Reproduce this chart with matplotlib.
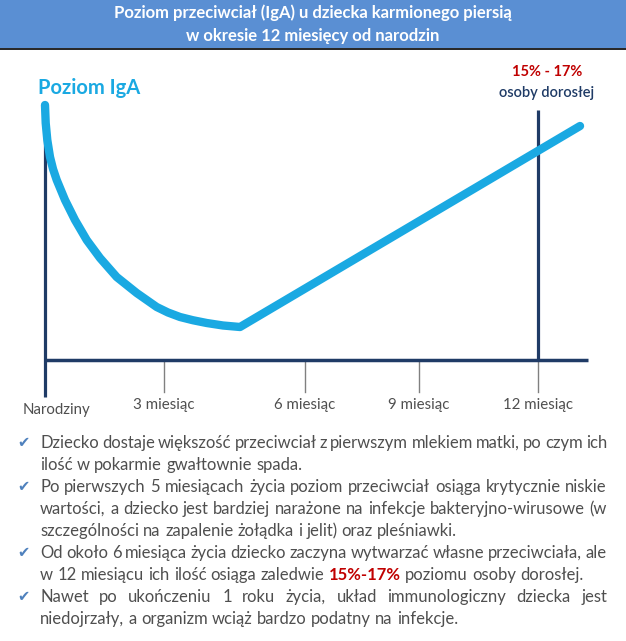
import numpy as np
import matplotlib
matplotlib.use('Agg')
import matplotlib.pyplot as plt
from matplotlib.patches import Rectangle

# --- data ---
# curve: months since birth vs IgA level (arbitrary units, axis = 0)
curve_months = [0.000, 0.017, 0.056, 0.122, 0.195, 0.285, 0.487, 0.730, 1.015,
                1.339, 1.745, 2.232, 2.719, 2.994, 3.286, 3.602, 3.936, 4.333,
                4.747, 13.023]
curve_level = [10.20, 9.48, 8.80, 8.12, 7.64, 7.20, 6.40, 5.60, 4.80,
               4.08, 3.32, 2.68, 2.12, 1.90, 1.72, 1.59, 1.48, 1.38,
               1.32, 9.36]

tick_months = [2.9, 6.33, 9.1, 12.0]
tick_labels = ['3 miesiąc', '6 miesiąc', '9 miesiąc', '12 miesiąc']
start_label = 'Narodziny'

title_lines = ['Poziom przeciwciał (IgA) u dziecka karmionego piersią',
               'w okresie 12 miesięcy od narodzin']
y_label = 'Poziom IgA'
adult_pct = '15% - 17%'
adult_label = 'osoby dorosłej'

# (text, justified, starts with a check mark)
bullet_lines = [
    ('Dziecko dostaje większość przeciwciał z pierwszym mlekiem matki, po czym ich', True, True),
    ('ilość w pokarmie gwałtownie spada.', False, False),
    ('Po pierwszych 5 miesiącach życia poziom przeciwciał osiąga krytycznie niskie', True, True),
    ('wartości, a dziecko jest bardziej narażone na infekcje bakteryjno-wirusowe (w', True, False),
    ('szczególności na zapalenie żołądka i jelit) oraz  pleśniawki.', False, False),
    ('Od około 6 miesiąca życia dziecko zaczyna wytwarzać własne przeciwciała, ale', True, True),
    ('w 12 miesiącu ich ilość osiąga zaledwie 15%-17% poziomu osoby dorosłej.', False, False),
    ('Nawet po ukończeniu 1 roku życia, układ immunologiczny dziecka jest', True, True),
    ('niedojrzały, a organizm wciąż bardzo podatny na infekcje.', False, False),
]
highlight_words = ['15%-17%']

# --- colours ---
HEADER = '#5A8FD3'
NAVY = '#1F3B66'
CYAN = '#1AA9E2'
RED = '#C00000'
GREY = '#808080'
TEXT = '#4F4F4F'
CHECK = '#4F81BD'

plt.rcParams['font.family'] = ['Lato', 'DejaVu Sans']

W, H = 626, 641
fig = plt.figure(figsize=(W / 100, H / 100), dpi=100)
fig.patch.set_facecolor('white')

# pixel helpers for the figure-level text
def fx(px):
    return px / W

def fy(py):
    return 1 - py / H

# plot axes over the whole figure, months/level mapped to pixels
PX_PER_MONTH = (538 - 45) / 12
PX_PER_UNIT = 25
X0, Y0 = 45, 360
ax = fig.add_axes([0, 0, 1, 1])
ax.set_xlim(-X0 / PX_PER_MONTH, (W - X0) / PX_PER_MONTH)
ax.set_ylim((Y0 - H) / PX_PER_UNIT, Y0 / PX_PER_UNIT)
ax.axis('off')

def lv(py):
    return (Y0 - py) / PX_PER_UNIT

def mo(px):
    return (px - X0) / PX_PER_MONTH

# header banner
fig.patches.append(Rectangle((0, fy(48)), 1, 48 / H, transform=fig.transFigure,
                             facecolor=HEADER, edgecolor='none', zorder=0))
fig.add_artist(plt.Line2D([0, 1], [fy(48.5), fy(48.5)], color='black', lw=1.2))
fig.text(0.5, fy(13), title_lines[0], color='white', fontsize=12,
         fontweight='bold', ha='center', va='center')
fig.text(0.5, fy(36), title_lines[1], color='white', fontsize=12,
         fontweight='bold', ha='center', va='center')

# axes lines
ax.plot([0, 0], [lv(105), lv(397)], color=NAVY, lw=2.3, solid_capstyle='butt', zorder=2)
ax.plot([0, mo(588)], [0, 0], color=NAVY, lw=2.5, solid_capstyle='butt', zorder=2)
ax.plot([12, 12], [lv(110), 0], color=NAVY, lw=2.3, solid_capstyle='butt', zorder=2)
for m in tick_months:
    ax.plot([m, m], [lv(362), lv(392)], color=GREY, lw=1.0, zorder=1)

# IgA curve
ax.plot(curve_months, curve_level, color=CYAN, lw=6, solid_capstyle='round',
        solid_joinstyle='round', zorder=3)

# tick labels
ax.text(mo(57), lv(410), start_label, color=TEXT, fontsize=10.8, ha='center', va='center')
for m, lab in zip(tick_months, tick_labels):
    ax.text(m, lv(405), lab, color=TEXT, fontsize=10.8, ha='center', va='center')

# annotations
fig.text(fx(38), fy(88), y_label, color=CYAN, fontsize=14.5, fontweight='bold',
         ha='left', va='center')
fig.text(fx(547), fy(72), adult_pct, color=RED, fontsize=10.5, fontweight='bold',
         ha='center', va='center')
fig.text(fx(547), fy(93), adult_label, color=NAVY, fontsize=10.5, fontweight='semibold',
         ha='center', va='center')

# bullet list with justified lines
renderer = fig.canvas.get_renderer()
LEFT, RIGHT = 40, 607
FS = 12

def word_width(t):
    return t.get_window_extent(renderer).width

probe = fig.text(0, 0, 'a a', fontsize=FS)
probe2 = fig.text(0, 0, 'aa', fontsize=FS)
space_w = word_width(probe) - word_width(probe2)
probe.remove()
probe2.remove()

for i, (line, justified, bullet) in enumerate(bullet_lines):
    y = fy(443 + 22 * i)
    if bullet:
        fig.text(fx(23), y, '\u2714', family=['DejaVu Sans'], color=CHECK,
                 fontsize=10.5, ha='center', va='center')
    words = line.split()
    texts = []
    for w in words:
        if w in highlight_words:
            t = fig.text(0, y, w, color=RED, fontsize=FS, fontweight='bold', va='center')
        else:
            t = fig.text(0, y, w, color=TEXT, fontsize=FS, va='center')
        texts.append(t)
    widths = [word_width(t) for t in texts]
    if justified and len(words) > 1:
        gap = (RIGHT - LEFT - sum(widths)) / (len(words) - 1)
    else:
        gap = space_w
    x = LEFT
    for t, w in zip(texts, widths):
        t.set_x(fx(x))
        x += w + gap

fig.savefig('out.png', dpi=100, facecolor='white')
